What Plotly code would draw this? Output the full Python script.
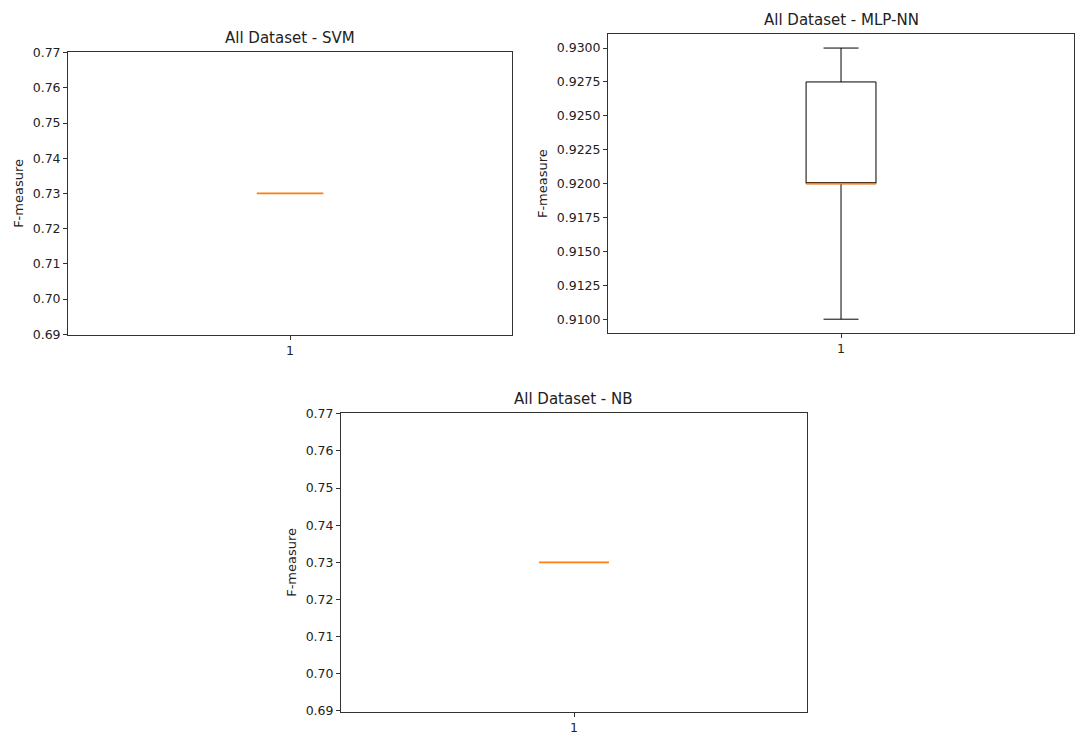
import plotly.graph_objects as go

# Five-number summaries of the F-measure per classifier
models = ["SVM", "MLP-NN", "NB"]
lower_fence = [0.73, 0.91, 0.73]
q1 = [0.73, 0.92, 0.73]
median = [0.73, 0.92, 0.73]
q3 = [0.73, 0.9275, 0.73]
upper_fence = [0.73, 0.93, 0.73]

# y ranges and tick spacing per panel
y_ranges = [[0.68985, 0.77015], [0.909, 0.931], [0.68985, 0.77015]]
y_dticks = [0.01, 0.0025, 0.01]
y_formats = [".2f", ".4f", ".2f"]

# panel placement in paper coordinates: (x0, x1, y0, y1)
domains = [
    (0.0633, 0.4763, 0.5529, 0.9384),
    (0.5656, 0.9991, 0.5556, 0.9625),
    (0.3172, 0.7507, 0.0388, 0.4458),
]

FONT = "DejaVu Sans"
POS = 1          # box position on the x axis
BOX_W = 0.15     # box width in x units
fig = go.Figure()
annotations = []
layout_axes = {}

for i, name in enumerate(models):
    sfx = "" if i == 0 else str(i + 1)
    xa, ya = "x" + sfx, "y" + sfx
    # box with whiskers and caps
    if q3[i] > q1[i] or upper_fence[i] > lower_fence[i]:
        fig.add_trace(go.Box(
            x=[POS], q1=[q1[i]], median=[median[i]], q3=[q3[i]],
            lowerfence=[lower_fence[i]], upperfence=[upper_fence[i]],
            width=BOX_W, whiskerwidth=0.5, boxpoints=False,
            line=dict(color="black", width=1),
            fillcolor="rgba(0,0,0,0)", xaxis=xa, yaxis=ya,
            showlegend=False, hoverinfo="skip",
        ))
    # median line in orange across the box width
    fig.add_trace(go.Scatter(
        x=[POS - BOX_W / 2, POS + BOX_W / 2], y=[median[i], median[i]],
        mode="lines", line=dict(color="#ff7f0e", width=1.8),
        xaxis=xa, yaxis=ya, showlegend=False, hoverinfo="skip",
    ))
    x0, x1, y0, y1 = domains[i]
    axis_common = dict(
        showline=True, linecolor="#333333", linewidth=1, mirror=True,
        showgrid=False, zeroline=False, ticks="outside", ticklen=4,
        tickcolor="#333333", tickwidth=1,
        tickfont=dict(family=FONT, size=12.5, color="#222222"),
    )
    layout_axes["xaxis" + sfx] = dict(
        axis_common, domain=[x0, x1], anchor=ya, range=[0.5, 1.5],
        tickvals=[POS], ticktext=["1"], fixedrange=True,
    )
    layout_axes["yaxis" + sfx] = dict(
        axis_common, domain=[y0, y1], anchor=xa, range=y_ranges[i],
        dtick=y_dticks[i], tick0=0, tickformat=y_formats[i],
        title=dict(text="F-measure", standoff=6,
                   font=dict(family=FONT, size=13, color="#222222")),
        fixedrange=True,
    )
    annotations.append(dict(
        text="All Dataset - " + name, xref="paper", yref="paper",
        x=(x0 + x1) / 2, y=y1, xanchor="center", yanchor="bottom",
        yshift=3, showarrow=False,
        font=dict(family=FONT, size=15, color="#222222"),
    ))

fig.update_layout(
    width=1075, height=747, margin=dict(l=0, r=0, t=0, b=0),
    paper_bgcolor="white", plot_bgcolor="white",
    annotations=annotations, **layout_axes,
)

fig.write_html("out.html")
